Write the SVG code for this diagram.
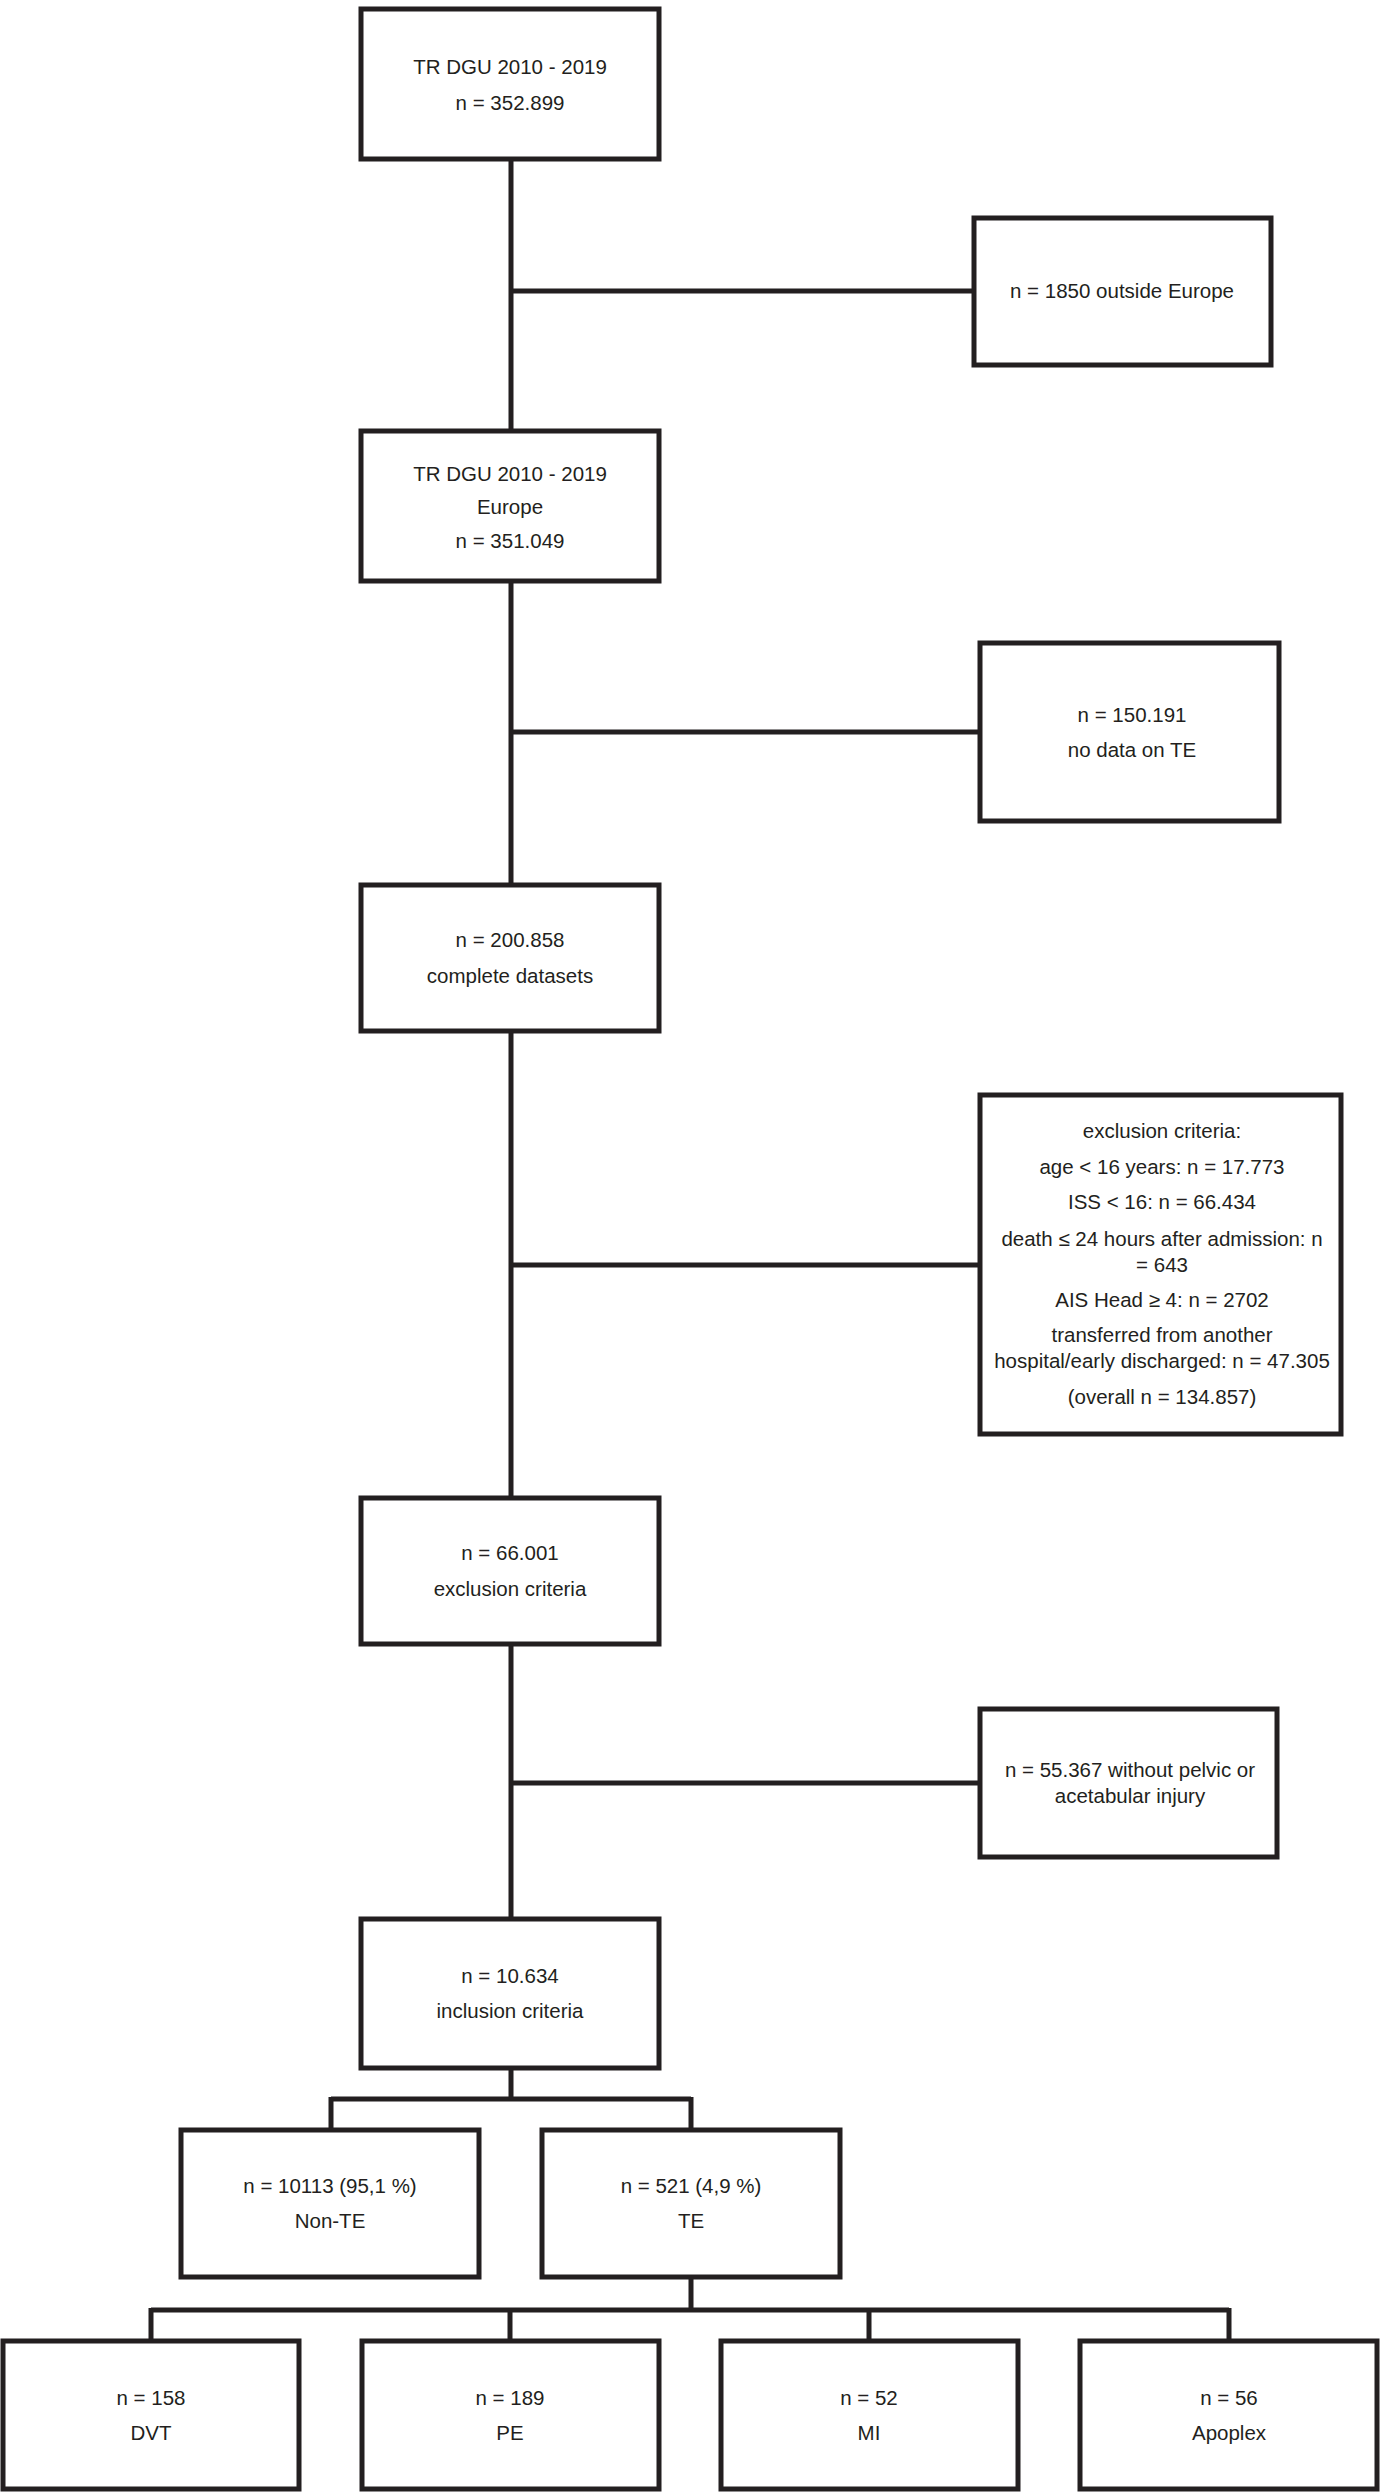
<svg xmlns="http://www.w3.org/2000/svg" width="1392" height="2492" viewBox="0 0 1392 2492">
<style>
.box{fill:#fff;stroke:#231f20;stroke-width:5}
.ln{fill:none;stroke:#231f20;stroke-width:5}
text{font-family:"Liberation Sans",Arial,sans-serif;font-size:20.5px;fill:#231f20;text-anchor:middle}
</style>
<rect width="1392" height="2492" fill="#fff"/>
<g id="connectors">
<path class="ln" d="M511 159V431M511 291H974"/>
<path class="ln" d="M511 581V885M511 732H980"/>
<path class="ln" d="M511 1031V1498M511 1265H980"/>
<path class="ln" d="M511 1644V1919M511 1783H980"/>
<path class="ln" d="M511 2068V2099M331 2099H691M331 2097V2130M691 2097V2130"/>
<path class="ln" d="M691 2277V2310M151 2310H1229M151 2308V2341M510 2308V2341M869 2308V2341M1229 2308V2341"/>
</g>
<g id="n1"><rect class="box" x="361" y="9" width="298" height="150"/><text x="510" y="74">TR DGU 2010 - 2019</text><text x="510" y="110">n = 352.899</text></g>
<g id="n2"><rect class="box" x="974" y="218" width="297" height="147"/><text x="1122" y="298">n = 1850 outside Europe</text></g>
<g id="n3"><rect class="box" x="361" y="431" width="298" height="150"/><text x="510" y="481">TR DGU 2010 - 2019</text><text x="510" y="514">Europe</text><text x="510" y="548">n = 351.049</text></g>
<g id="n4"><rect class="box" x="980" y="643" width="299" height="178"/><text x="1132" y="722">n = 150.191</text><text x="1132" y="757">no data on TE</text></g>
<g id="n5"><rect class="box" x="361" y="885" width="298" height="146"/><text x="510" y="947">n = 200.858</text><text x="510" y="983">complete datasets</text></g>
<g id="n6"><rect class="box" x="980" y="1095" width="361" height="339"/>
<text x="1162" y="1138">exclusion criteria:</text>
<text x="1162" y="1174">age &lt; 16 years: n = 17.773</text>
<text x="1162" y="1209">ISS &lt; 16: n = 66.434</text>
<text x="1162" y="1246">death ≤ 24 hours after admission: n</text>
<text x="1162" y="1272">= 643</text>
<text x="1162" y="1307">AIS Head ≥ 4: n = 2702</text>
<text x="1162" y="1342">transferred from another</text>
<text x="1162" y="1368">hospital/early discharged: n = 47.305</text>
<text x="1162" y="1404">(overall n = 134.857)</text>
</g>
<g id="n7"><rect class="box" x="361" y="1498" width="298" height="146"/><text x="510" y="1560">n = 66.001</text><text x="510" y="1596">exclusion criteria</text></g>
<g id="n8"><rect class="box" x="980" y="1709" width="297" height="148"/><text x="1130" y="1777">n = 55.367 without pelvic or</text><text x="1130" y="1803">acetabular injury</text></g>
<g id="n9"><rect class="box" x="361" y="1919" width="298" height="149"/><text x="510" y="1983">n = 10.634</text><text x="510" y="2018">inclusion criteria</text></g>
<g id="n10"><rect class="box" x="181" y="2130" width="298" height="147"/><text x="330" y="2193">n = 10113 (95,1 %)</text><text x="330" y="2228">Non-TE</text></g>
<g id="n11"><rect class="box" x="542" y="2130" width="298" height="147"/><text x="691" y="2193">n = 521 (4,9 %)</text><text x="691" y="2228">TE</text></g>
<g id="n12"><rect class="box" x="3" y="2341" width="296" height="148"/><text x="151" y="2405">n = 158</text><text x="151" y="2440">DVT</text></g>
<g id="n13"><rect class="box" x="362" y="2341" width="297" height="148"/><text x="510" y="2405">n = 189</text><text x="510" y="2440">PE</text></g>
<g id="n14"><rect class="box" x="721" y="2341" width="297" height="148"/><text x="869" y="2405">n = 52</text><text x="869" y="2440">MI</text></g>
<g id="n15"><rect class="box" x="1080" y="2341" width="297" height="148"/><text x="1229" y="2405">n = 56</text><text x="1229" y="2440">Apoplex</text></g>
</svg>
